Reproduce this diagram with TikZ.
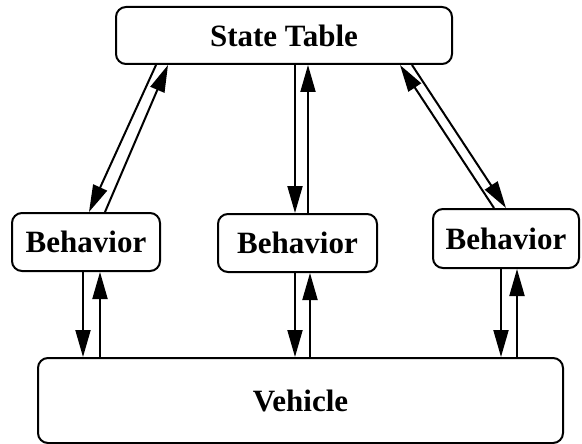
\documentclass[tikz,border=0pt]{standalone}
\usepackage{fontspec}
\setmainfont{Liberation Serif}
\usetikzlibrary{arrows.meta}
\tikzset{
  box/.style={draw, line width=2pt, rounded corners=10pt, inner sep=0pt,
    font=\fontsize{31}{37}\selectfont\bfseries},
  arr/.style={line width=2pt, -{Triangle[length=27pt,width=15pt]}}
}
\begin{document}
\begin{tikzpicture}[x=1pt,y=-1pt]
\useasboundingbox (0,0) rectangle (582,444);
\node[box, minimum width=336pt, minimum height=57pt] (st) at (284,35.5) {State Table};
\node[box, minimum width=148pt, minimum height=58pt] (b1) at (86,242) {Behavior};
\node[box, minimum width=159pt, minimum height=58pt] (b2) at (297.5,243) {Behavior};
\node[box, minimum width=146pt, minimum height=59pt] (b3) at (506,238.5) {Behavior};
\node[box, minimum width=525pt, minimum height=85pt] (v) at (300.5,400.5) {Vehicle};
% State Table <-> Behaviors
\draw[arr] ([xshift=-128pt]st.south) -- ([xshift=3pt]b1.north);
\draw[arr] ([xshift=19pt]b1.north) -- ([xshift=-116pt]st.south);
\draw[arr] ([xshift=11pt]st.south) -- ([xshift=-2.5pt]b2.north);
\draw[arr] ([xshift=10.5pt]b2.north) -- ([xshift=24pt]st.south);
\draw[arr] ([xshift=-12pt]b3.north) -- ([xshift=116pt]st.south);
\draw[arr] ([xshift=128pt]st.south) -- ([xshift=0pt]b3.north);
% Behaviors <-> Vehicle
\draw[arr] ([xshift=-3pt]b1.south) -- ([xshift=-217.5pt]v.north);
\draw[arr] ([xshift=-200.5pt]v.north) -- ([xshift=14pt]b1.south);
\draw[arr] ([xshift=-2.5pt]b2.south) -- ([xshift=-5.5pt]v.north);
\draw[arr] ([xshift=9.5pt]v.north) -- ([xshift=12.5pt]b2.south);
\draw[arr] ([xshift=-5pt]b3.south) -- ([xshift=200.5pt]v.north);
\draw[arr] ([xshift=216.5pt]v.north) -- ([xshift=11pt]b3.south);
\end{tikzpicture}
\end{document}
